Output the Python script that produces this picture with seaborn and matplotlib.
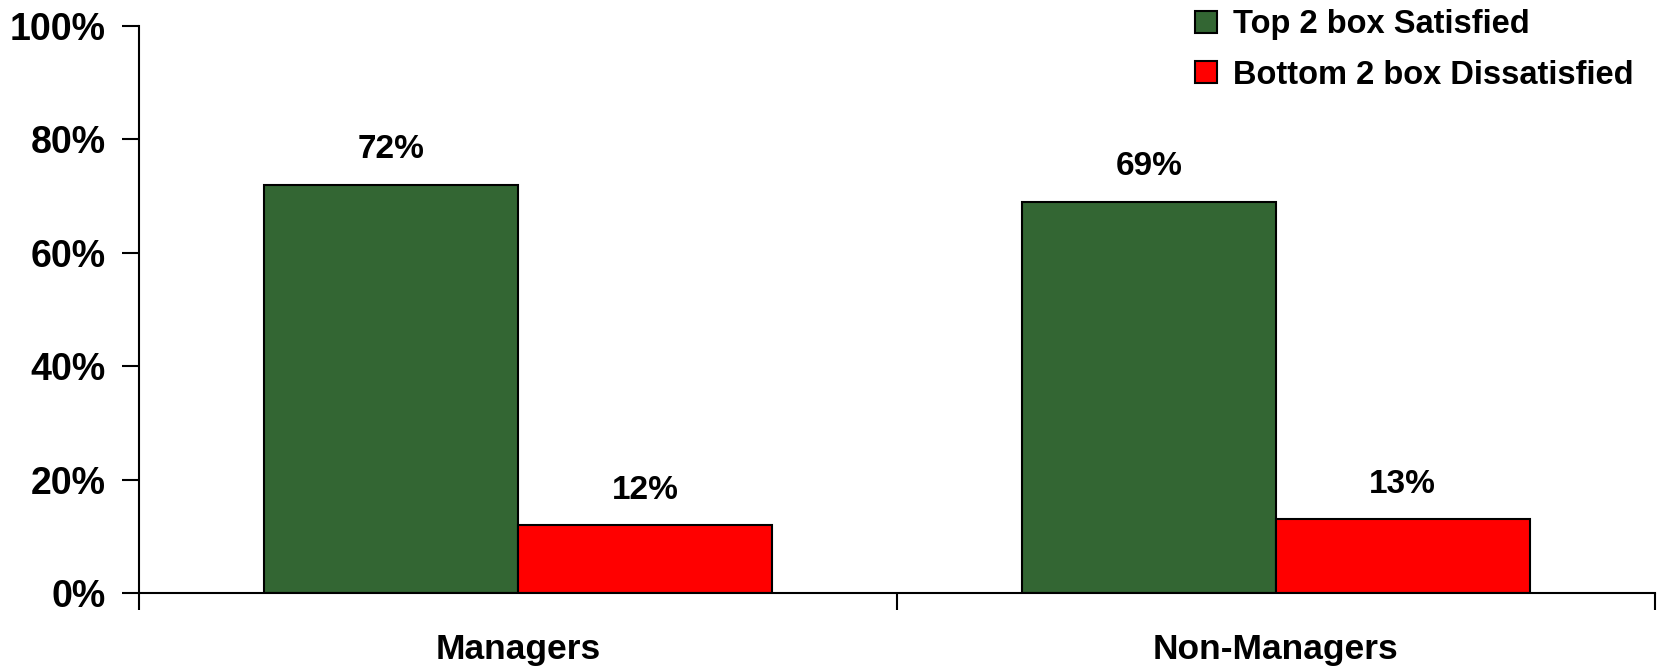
import matplotlib
matplotlib.use("Agg")
import matplotlib.pyplot as plt
import seaborn as sns
import pandas as pd
from matplotlib.ticker import FixedLocator, NullFormatter
from matplotlib.patches import Patch

categories = ["Managers", "Non-Managers"]
series_names = ["Top 2 box Satisfied", "Bottom 2 box Dissatisfied"]
satisfied = [72, 69]
dissatisfied = [12, 13]
y_ticks = [0, 20, 40, 60, 80, 100]
colors = ["#336633", "#FF0000"]

df = pd.DataFrame({
    "group": categories * 2,
    "series": [series_names[0]] * 2 + [series_names[1]] * 2,
    "value": satisfied + dissatisfied,
})

sns.set_style("white")
plt.rcParams["font.family"] = ["Liberation Sans", "DejaVu Sans"]
plt.rcParams["font.weight"] = "bold"
plt.rcParams["text.color"] = "black"
plt.rcParams["xtick.color"] = "black"
plt.rcParams["ytick.color"] = "black"

fig = plt.figure(figsize=(16.68, 6.71), dpi=100)
ax = fig.add_axes([0.0833, 0.1162, 0.9087, 0.8451])

sns.barplot(data=df, x="group", y="value", hue="series", order=categories,
            hue_order=series_names, palette=colors, width=0.67,
            edgecolor="black", linewidth=1.5, saturation=1, ax=ax, legend=False)

for cont in ax.containers:
    ax.bar_label(cont, labels=[f"{v:.0f}%" for v in cont.datavalues],
                 padding=14, fontsize=24, fontweight="bold", color="black")

ax.set_ylim(0, 100)
ax.set_xlim(-0.5, 1.5)
ax.set_yticks(y_ticks)
ax.set_yticklabels([f"{t}%" for t in y_ticks], fontsize=27, fontweight="bold")
ax.set_xticks([0, 1])
ax.set_xticklabels(categories, fontsize=25.5, fontweight="bold")
ax.tick_params(axis="x", which="major", length=0, pad=29)
ax.xaxis.set_minor_locator(FixedLocator([-0.5, 0.5, 1.5]))
ax.xaxis.set_minor_formatter(NullFormatter())
ax.tick_params(axis="x", which="minor", length=12, width=1.5, color="black", direction="out", bottom=True)
ax.tick_params(axis="y", length=12, width=1.5, color="black", direction="out", left=True, pad=12)
ax.set_xlabel("")
ax.set_ylabel("")
for side in ["top", "right"]:
    ax.spines[side].set_visible(False)
for side in ["left", "bottom"]:
    ax.spines[side].set_color("black")
    ax.spines[side].set_linewidth(1.5)

handles = [Patch(facecolor=c, edgecolor="black", linewidth=1.5) for c in colors]
fig.legend(handles, series_names, loc="upper right", bbox_to_anchor=(0.997, 1.03),
           frameon=False, handlelength=0.65, handleheight=0.65,
           handletextpad=0.5, labelspacing=0.6, prop={"weight": "bold", "size": 23.5})

fig.savefig("out.png", dpi=100)
